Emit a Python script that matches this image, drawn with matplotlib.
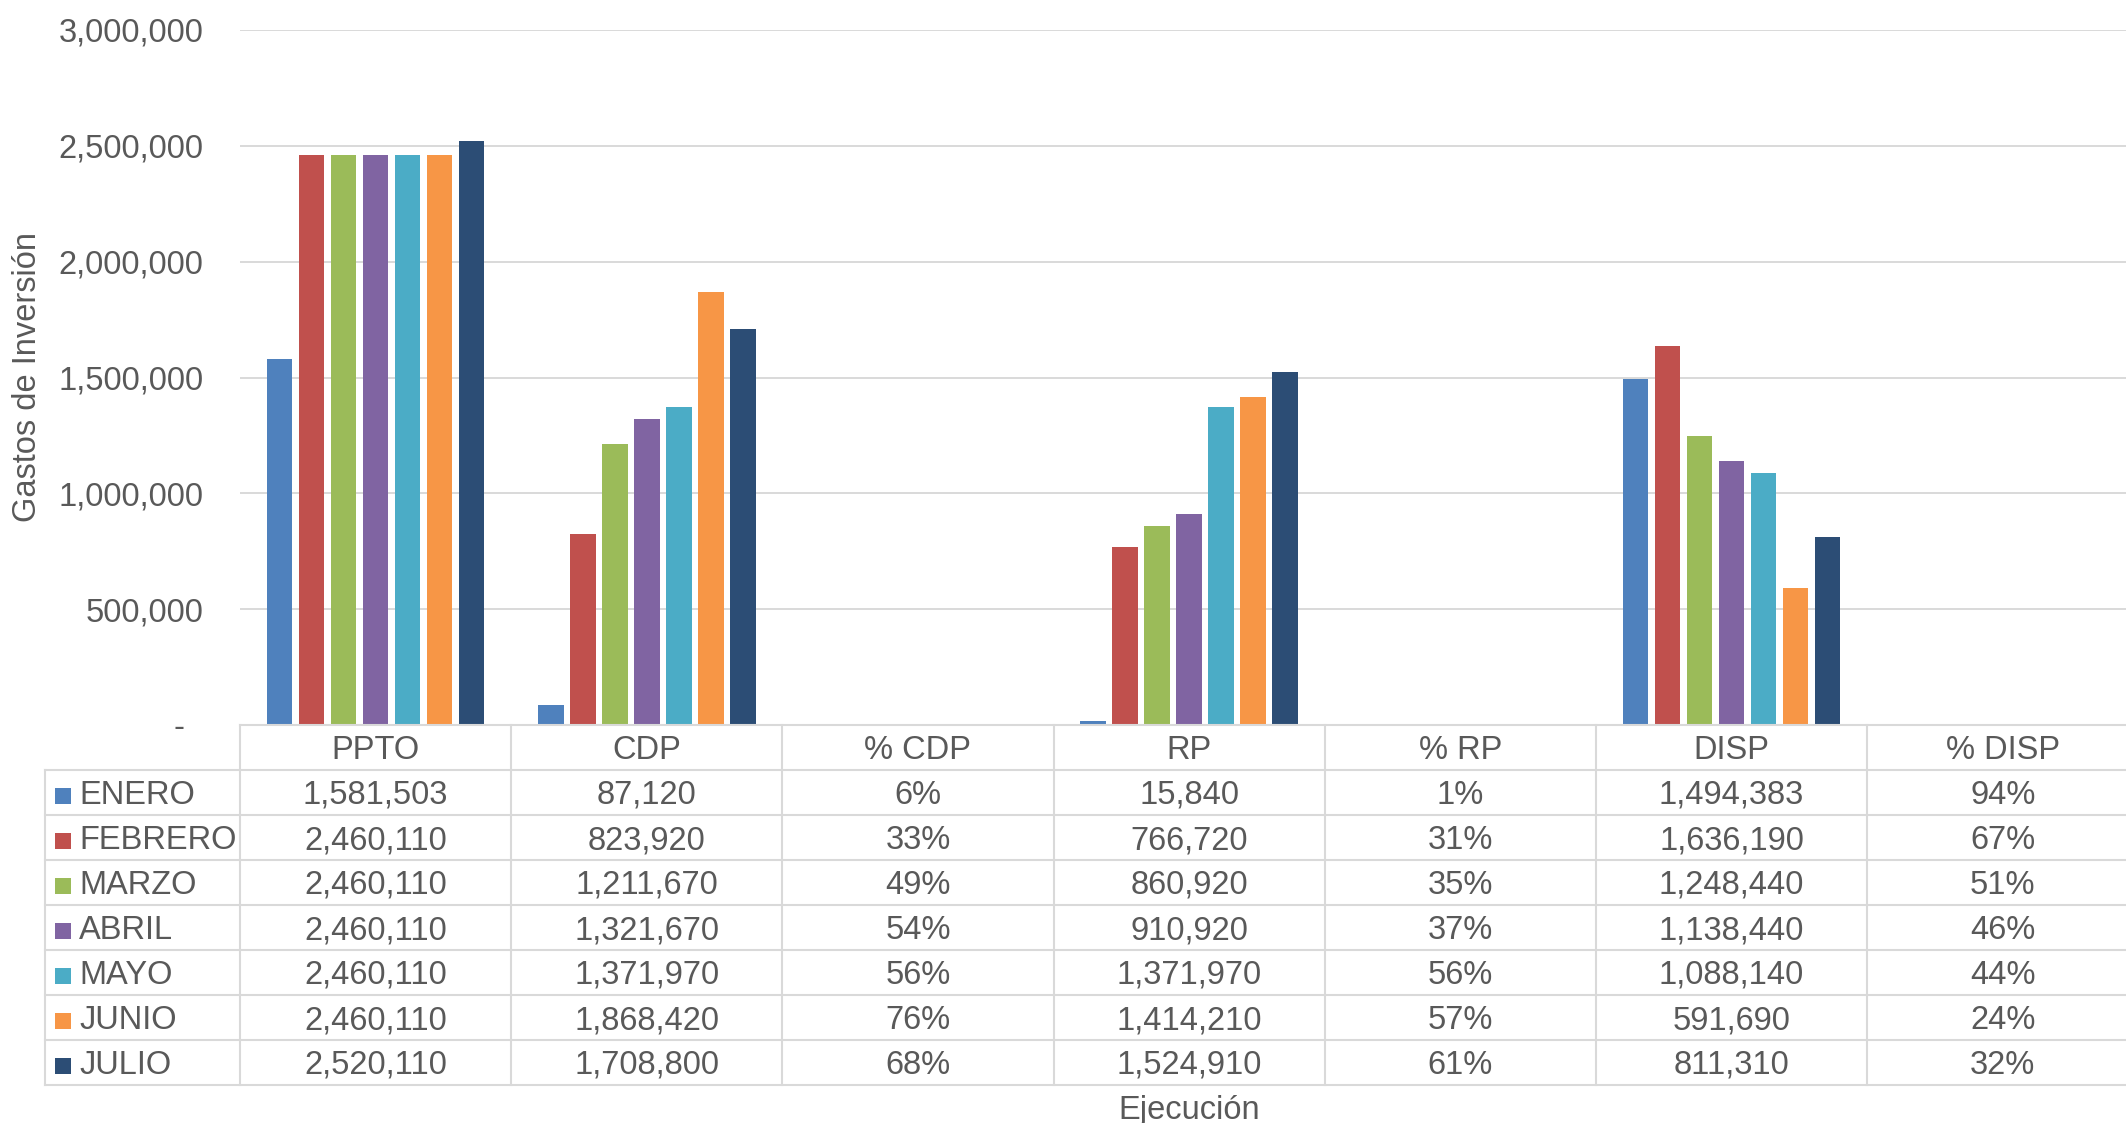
import matplotlib
matplotlib.use("Agg")
import matplotlib.pyplot as plt
from matplotlib.transforms import blended_transform_factory
from matplotlib.patches import Rectangle
import numpy as np

plt.rcParams['font.family'] = ['Liberation Sans', 'DejaVu Sans']

# ---- data ----
months = ['ENERO', 'FEBRERO', 'MARZO', 'ABRIL', 'MAYO', 'JUNIO', 'JULIO']
categories = ['PPTO', 'CDP', '% CDP', 'RP', '% RP', 'DISP', '% DISP']
ppto = [1581503, 2460110, 2460110, 2460110, 2460110, 2460110, 2520110]
cdp = [87120, 823920, 1211670, 1321670, 1371970, 1868420, 1708800]
pct_cdp = [6, 33, 49, 54, 56, 76, 68]
rp = [15840, 766720, 860920, 910920, 1371970, 1414210, 1524910]
pct_rp = [1, 31, 35, 37, 56, 57, 61]
disp = [1494383, 1636190, 1248440, 1138440, 1088140, 591690, 811310]
pct_disp = [94, 67, 51, 46, 44, 24, 32]
yticks = [0, 500000, 1000000, 1500000, 2000000, 2500000, 3000000]
colors = ['#4F81BD', '#C0504D', '#9BBB59', '#8064A2', '#4BACC6', '#F79646', '#2C4D75']

TEXT = '#595959'
GRID = '#D9D9D9'
FS = 23.5

W, H = 2126, 1123
fig = plt.figure(figsize=(W / 100, H / 100), dpi=100)

ax_left, ax_top, ax_bottom = 240, 30, 725
col_w = 271.2
ax = fig.add_axes([ax_left / W, 1 - ax_bottom / H, 7 * col_w / W, (ax_bottom - ax_top) / H])

# series per month (row) across categories
def month_values(i):
    return [ppto[i], cdp[i], pct_cdp[i] / 100, rp[i], pct_rp[i] / 100, disp[i], pct_disp[i] / 100]

x = np.arange(len(categories))
pitch = 32 / col_w
bw = 25.5 / col_w
for i, m in enumerate(months):
    ax.bar(x + (i - 3) * pitch, month_values(i), width=bw, color=colors[i], zorder=3, label=m)

ax.set_xlim(-0.5, 6.5)
ax.set_ylim(0, 3000000)
ax.set_yticks(yticks)
ax.set_yticklabels([f"{v:,}" if v else "-  " for v in yticks], fontsize=FS, color=TEXT)
ax.tick_params(axis='y', length=0, pad=26.5)
ax.set_xticks([])
ax.yaxis.grid(True, color=GRID, linewidth=1.4, zorder=0)
for s in ax.spines.values():
    s.set_visible(False)
ax.set_ylabel('Gastos de Inversión', fontsize=FS, color=TEXT)
ax.yaxis.set_label_coords((43 - ax_left) / (7 * col_w), 0.5)

# ---- data table ----
tr = blended_transform_factory(ax.transData, fig.transFigure)
def fy(px):
    return 1 - px / H

row_h = 45
header_top = ax_bottom
header_bot = header_top + row_h
table_bot = header_bot + row_h * len(months)
lab_left = -0.5 + (45 - ax_left) / col_w
lw_t = 1.5
kw = dict(transform=tr, clip_on=False, color=GRID, linewidth=lw_t, zorder=5)

# horizontal lines
ax.plot([-0.5, 6.6], [fy(header_top)] * 2, **kw)
for r in range(len(months) + 1):
    yy = header_bot + r * row_h
    ax.plot([lab_left, 6.6], [fy(yy)] * 2, **kw)
# vertical lines
ax.plot([lab_left] * 2, [fy(header_bot), fy(table_bot)], **kw)
for c in range(len(categories) + 1):
    xx = -0.5 + c
    ax.plot([xx] * 2, [fy(header_top), fy(table_bot)], **kw)

# header texts
for c, cat in enumerate(categories):
    ax.text(c, fy(header_top + row_h / 2 + 3), cat, transform=tr, ha='center', va='center',
            fontsize=FS, color=TEXT, clip_on=False)

cols_data = [ppto, cdp, pct_cdp, rp, pct_rp, disp, pct_disp]
is_pct = [False, False, True, False, True, False, True]
for r, m in enumerate(months):
    yc = fy(header_bot + r * row_h + row_h / 2 + 3)
    for c in range(len(categories)):
        v = cols_data[c][r]
        s = f"{v}%" if is_pct[c] else f"{v:,}"
        ax.text(c, yc, s, transform=tr, ha='center', va='center', fontsize=FS,
                color=TEXT, clip_on=False)
    # legend key
    kx = -0.5 + (55 - ax_left) / col_w
    ksz = 16
    rect = Rectangle((kx, yc - (ksz / 2) / H), ksz / col_w, ksz / H, transform=tr,
                     facecolor=colors[r], edgecolor='none', clip_on=False, zorder=6)
    ax.add_patch(rect)
    ax.text(-0.5 + (79 - ax_left) / col_w, yc, m, transform=tr, ha='left', va='center',
            fontsize=FS, color=TEXT, clip_on=False)

fig.text(1189 / W, fy(1110), 'Ejecución', ha='center', va='center', fontsize=FS, color=TEXT)

fig.savefig('out.png', dpi=100, facecolor='white')
